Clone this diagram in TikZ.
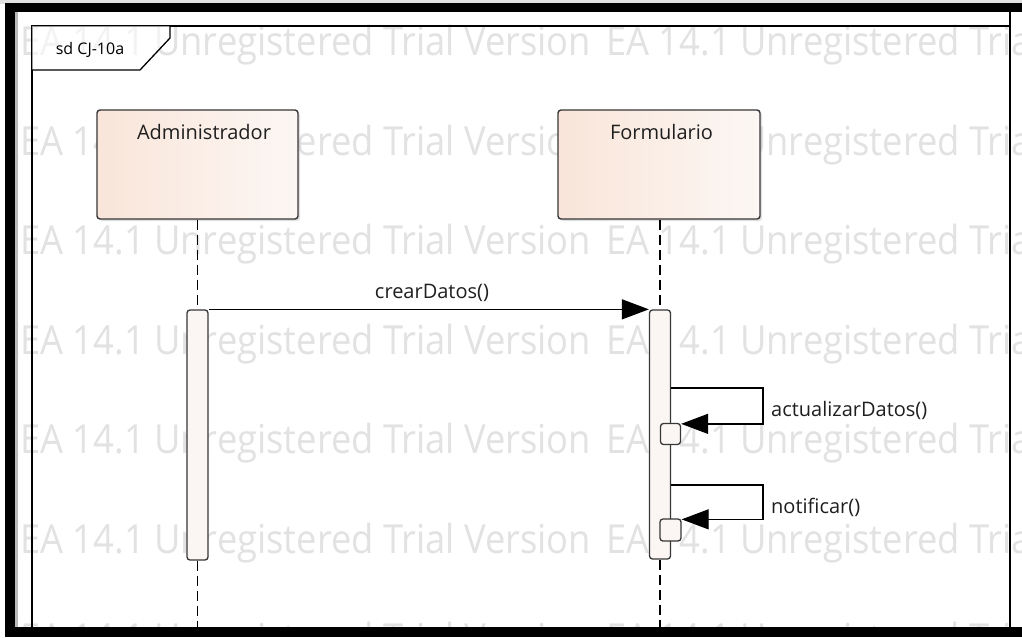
\documentclass[tikz,border=0pt]{standalone}
\usepackage{fontspec}
\usepackage{graphicx}
\setmainfont{Open Sans}
\usetikzlibrary{arrows.meta,shadows}

\definecolor{wmark}{RGB}{226,226,226}
\definecolor{boxline}{RGB}{55,55,55}
\definecolor{peachL}{RGB}{249,229,217}
\definecolor{peachR}{RGB}{252,247,244}
\definecolor{actfill}{RGB}{251,246,243}
\definecolor{edgegray}{RGB}{185,185,185}
\definecolor{topgray}{RGB}{225,225,225}

\newcommand{\wmtext}{\scalebox{0.908}[1]{EA 14.1 Unregistered Trial Version}}

\tikzset{
  lifebox/.style={draw=boxline, line width=1.4pt, rounded corners=3pt,
    left color=peachL, right color=peachR, inner sep=0pt,
    minimum width=201pt, minimum height=109pt,
    drop shadow={shadow xshift=2pt, shadow yshift=-2pt, opacity=0.3, fill=black!40}},
  actbar/.style={draw=boxline, line width=1.3pt, rounded corners=3pt, fill=actfill,
    inner sep=0pt, minimum width=21pt},
  subact/.style={actbar, minimum width=20pt, minimum height=21pt},
  lifeline/.style={draw=black, line width=1.3pt, dash pattern=on 10pt off 5pt},
  msg/.style={draw=black, line width=1.3pt, -{Triangle[length=27pt,width=20pt]}},
  lbl/.style={font=\fontsize{20}{23}\selectfont, text=black!88, inner sep=0pt},
  wm/.style={font=\fontsize{40}{46}\selectfont, text=wmark, inner sep=0pt,
    anchor=base west},
  framepen/.style={draw=black, line width=1.3pt},
}

\begin{document}
\begin{tikzpicture}[x=1pt, y=-1pt]
\useasboundingbox (0,0) rectangle (1022,637);
\fill[white] (0,0) rectangle (1022,637);

% trial watermark rows
\begin{scope}
  \clip (18,12) rectangle (1022,627);
  \foreach \r in {0,...,6} {
    \foreach \c in {0,1} {
      \node[wm] (wm-\r-\c) at (20+586*\c, 55.5+99.5*\r) {\wmtext};
    }
  }
\end{scope}

% diagram frame with its name tab
\draw[framepen] (32,627) -- (32,26) -- (1010,26);
\draw[framepen] (1010,12) -- (1010,627);
\fill[white, opacity=0.6] (32,26) -- (170,26) -- (170,38) -- (140,70) -- (32,70) -- cycle;
\draw[framepen] (32,70) -- (140,70) -- (170,38) -- (170,26);
\node[font=\fontsize{16}{19}\selectfont, inner sep=0pt] (sdname) at (90,50) {sd CJ-10a};

% lifeline heads
\node[lifebox] (admin) at (197.5,164.5) {};
\node[lifebox, minimum width=202pt] (form) at (659,164.5) {};
\node[lbl, anchor=base] (adminlbl) at (204,139) {Administrador};
\node[lbl, anchor=base] (formlbl) at (661.5,139) {Formulario};

% activations
\node[actbar, minimum height=250pt] (actA) at (197.5,435) {};
\node[actbar, minimum height=249pt] (actF) at (660,434.5) {};

% lifelines
\coordinate (floor) at (0,627);
\draw[lifeline] (admin.south -| actA) -- (actA.north);
\draw[lifeline] (form.south -| actF) -- (actF.north);
\draw[lifeline] (actA.south) -- (actA.south |- floor);
\draw[lifeline] (actF.south) -- (actF.south |- floor);

% crearDatos()
\draw[msg] (actA.north east) -- (actF.north west);
\node[lbl] (m1) at (432,293) {crearDatos()};

% actualizarDatos() self call
\node[subact] (sub1) at (670.5,434) {};
\coordinate (turn1) at (763,388);
\draw[msg] (actF.east |- turn1) -- (turn1) |- ([yshift=-1pt]sub1.north east);
\node[lbl, anchor=west] (m2) at (771,410) {actualizarDatos()};

% notificar() self call
\node[subact, minimum width=21pt, minimum height=22pt] (sub2) at (670.5,530) {};
\coordinate (turn2) at (763,485);
\draw[msg] (actF.east |- turn2) -- (turn2) |- ([yshift=-1pt]sub2.north east);
\node[lbl, anchor=west] (m3) at (771,507) {notificar()};

% window border
\fill[topgray] (0,0) rectangle (1022,4);
\fill[black] (5,3) rectangle (1022,12);
\fill[black] (5,3) rectangle (15,637);
\fill[edgegray] (15,12) rectangle (18,627);
\fill[black] (5,627) rectangle (1022,637);
\end{tikzpicture}
\end{document}
